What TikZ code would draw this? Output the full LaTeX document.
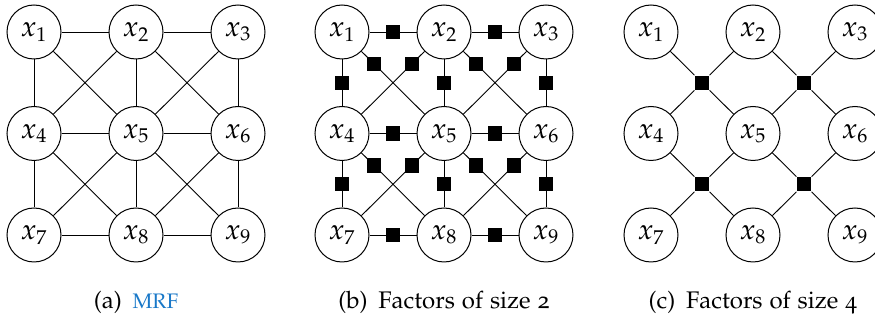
\documentclass[tikz,border=0pt]{standalone}
\usepackage[T1]{fontenc}
\usepackage[osf]{mathpazo}
\usepackage{xcolor}
\usetikzlibrary{calc}
\definecolor{linkblue}{RGB}{25,120,200}
\tikzset{
  var/.style={circle, draw, line width=0.5pt, minimum size=27pt, inner sep=0pt,
    font=\fontsize{14.4}{17}\selectfont},
  factor/.style={rectangle, fill=black, minimum size=7.2pt, inner sep=0pt},
  edge/.style={line width=0.45pt},
  caplabel/.style={font=\fontsize{12}{14.4}\selectfont, anchor=base}
}
\begin{document}
\begin{tikzpicture}[x=0.5pt,y=-0.5pt]
\useasboundingbox (0,0) rectangle (875,320);

% three 3x3 grids of variables: a = MRF, b = pairwise factors, c = size-4 factors
\foreach \p/\ox in {a/0,b/308,c/617}{
  \foreach \i/\c/\r in {1/0/0,2/1/0,3/2/0,4/0/1,5/1/1,6/2/1,7/0/2,8/1/2,9/2/2}{
    \node[var] (\p\i) at (34+\ox+102*\c, 32+101.5*\r) {$x_{\i}$};
  }
}

% (a) Markov random field
\foreach \u/\v in {1/2,2/3,4/5,5/6,7/8,8/9,1/4,4/7,2/5,5/8,3/6,6/9,
                   1/5,2/4,2/6,3/5,4/8,5/7,5/9,6/8}{
  \draw[edge] (a\u) -- (a\v);
}

% (b) one factor per edge
\foreach \u/\v in {1/2,2/3,4/5,5/6,7/8,8/9,1/4,4/7,2/5,5/8,3/6,6/9}{
  \draw[edge] (b\u) -- node[factor] (fb\u\v) {} (b\v);
}
\foreach \u/\v in {1/5,2/4,2/6,3/5,4/8,5/7,5/9,6/8}{
  \draw[edge] (b\u) -- node[factor,pos=0.2] (fb\u\v) {} (b\v);
}

% (c) one factor per 2x2 block
\foreach \k/\a/\b/\cc/\d in {1/1/2/4/5,2/2/3/5/6,3/4/5/7/8,4/5/6/8/9}{
  \node[factor] (fc\k) at ($(c\a)!0.5!(c\d)$) {};
  \foreach \v in {\a,\b,\cc,\d}{
    \draw[edge] (c\v) -- (fc\k);
  }
}

% sub-captions
\node[caplabel] (capa) at (136,309) {(a)\hspace{0.45em}\textcolor{linkblue}{\fontsize{10.5}{12}\selectfont MRF}};
\node[caplabel] (capb) at (444,309) {(b)\hspace{0.45em}Factors of size 2};
\node[caplabel] (capc) at (753,309) {(c)\hspace{0.45em}Factors of size 4};
\end{tikzpicture}
\end{document}
